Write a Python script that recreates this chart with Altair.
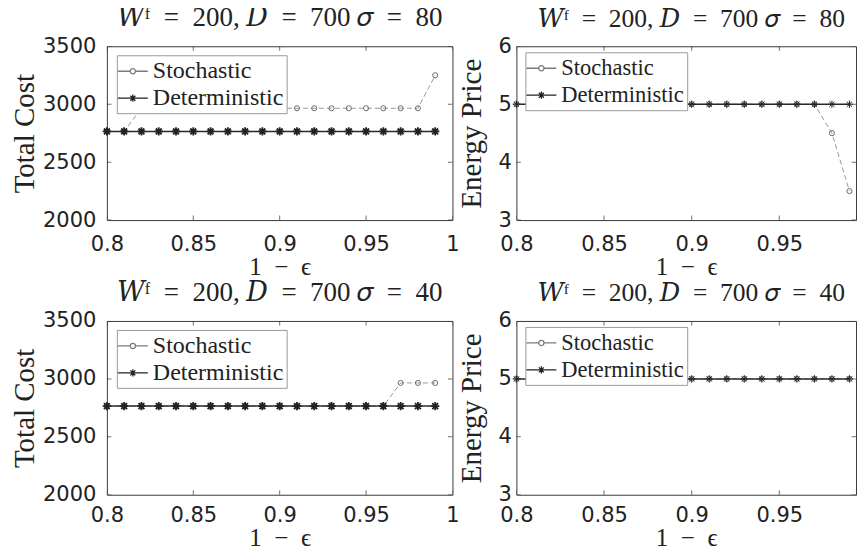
import altair as alt
import pandas as pd

# ---------------- data ----------------
x_vals = [0.80, 0.81, 0.82, 0.83, 0.84, 0.85, 0.86, 0.87, 0.88, 0.89,
          0.90, 0.91, 0.92, 0.93, 0.94, 0.95, 0.96, 0.97, 0.98, 0.99]

cost_stoch_80 = [2765, 2765, 2965, 2965, 2965, 2965, 2965, 2965, 2965, 2965,
                 2965, 2965, 2965, 2965, 2965, 2965, 2965, 2965, 2965, 3250]
cost_det_80 = [2765, 2765, 2765, 2765, 2765, 2765, 2765, 2765, 2765, 2765,
               2765, 2765, 2765, 2765, 2765, 2765, 2765, 2765, 2765, 2765]
price_stoch_80 = [5, 5, 5, 5, 5, 5, 5, 5, 5, 5,
                  5, 5, 5, 5, 5, 5, 5, 5, 4.5, 3.5]
price_det_80 = [5, 5, 5, 5, 5, 5, 5, 5, 5, 5,
                5, 5, 5, 5, 5, 5, 5, 5, 5, 5]

cost_stoch_40 = [2765, 2765, 2765, 2765, 2765, 2765, 2765, 2765, 2765, 2765,
                 2765, 2765, 2765, 2765, 2765, 2765, 2765, 2965, 2965, 2965]
cost_det_40 = [2765, 2765, 2765, 2765, 2765, 2765, 2765, 2765, 2765, 2765,
               2765, 2765, 2765, 2765, 2765, 2765, 2765, 2765, 2765, 2765]
price_stoch_40 = [5, 5, 5, 5, 5, 5, 5, 5, 5, 5,
                  5, 5, 5, 5, 5, 5, 5, 5, 5, 5]
price_det_40 = [5, 5, 5, 5, 5, 5, 5, 5, 5, 5,
                5, 5, 5, 5, 5, 5, 5, 5, 5, 5]

series_names = ["Stochastic", "Deterministic"]
x_ticks_left = [0.8, 0.85, 0.9, 0.95, 1.0]
x_ticks_right = [0.8, 0.85, 0.9, 0.95]   # the "1" tick of the right panels falls past the picture's edge
cost_ticks = [2000, 2500, 3000, 3500]
price_ticks = [3, 4, 5, 6]

EN = "\u2002"
title_80 = f"𝑊ᶠ{EN}={EN}200, 𝐷{EN}={EN}700 𝜎{EN}={EN}80"
title_40 = f"𝑊ᶠ{EN}={EN}200, 𝐷{EN}={EN}700 𝜎{EN}={EN}40"
x_title = f"1{EN}−{EN}ϵ"

# ---------------- marker shapes ----------------
STAR_BOLD = ("M0,-1L0,1M-1,0L1,0M-0.7,-0.7L0.7,0.7M-0.7,0.7L0.7,-0.7"
             "M0.35,0A0.35,0.35,0,1,1,-0.35,0A0.35,0.35,0,1,1,0.35,0")
STAR_THIN = "M0,-1L0,1M-1,0L1,0M-0.7,-0.7L0.7,0.7M-0.7,0.7L0.7,-0.7"
LEG_ST = ("M-1.25,0L-0.22,0M0.22,0L1.25,0"
          "M0.22,0A0.22,0.22,0,1,1,-0.22,0A0.22,0.22,0,1,1,0.22,0")
LEG_DE = ("M-1.25,0L1.25,0M0,-0.3L0,0.3M-0.3,0L0.3,0"
          "M-0.21,-0.21L0.21,0.21M-0.21,0.21L0.21,-0.21")

SERIF = "Liberation Serif"
TITLE_FONT = "Liberation Serif, DejaVu Serif"
SANS = "DejaVu Sans"


def panel(stoch, det, ylabel, ydom, yticks, title, w, h, xmax, xticks,
          lab_pad, ttl_pad, star_path, star_size, star_sw,
          leg_font, leg_x, leg_y, title_size, title_dx, xlab_pad):
    df = pd.DataFrame({
        "x": x_vals + x_vals,
        "y": stoch + det,
        "series": [series_names[0]] * len(x_vals) + [series_names[1]] * len(x_vals),
    })
    xs = alt.Scale(domain=[0.8, xmax], nice=False, zero=False, padding=0)
    ys = alt.Scale(domain=ydom, nice=False, zero=False, padding=0)
    X = alt.X("x:Q", scale=xs,
              axis=alt.Axis(values=xticks, format="~g", title=x_title,
                            labelPadding=xlab_pad, titlePadding=0, labelFlush=False,
                            titleFontSize=25))
    Y = alt.Y("y:Q", scale=ys,
              axis=alt.Axis(values=yticks, format="d", title=ylabel,
                            labelFlush=False,
                            labelPadding=lab_pad, titlePadding=ttl_pad))
    base = alt.Chart(df)
    st = base.transform_filter(alt.datum.series == series_names[0])
    de = base.transform_filter(alt.datum.series == series_names[1])

    st_line = st.mark_line(color="#8c8c8c", strokeWidth=0.9,
                           strokeDash=[5, 3]).encode(X, Y)
    st_pts = st.mark_point(shape="circle", filled=False, color="#6a6a6a",
                           size=26, strokeWidth=1, opacity=1).encode(X, Y)
    de_line = de.mark_line(color="#2a2a2a", strokeWidth=1.5).encode(X, Y)
    de_pts = de.mark_point(shape=star_path, filled=True, fill="#222",
                           stroke="#222", size=star_size, strokeWidth=star_sw,
                           opacity=1).encode(X, Y)

    leg_def = alt.Legend(title=None, orient="none", legendX=leg_x, legendY=leg_y,
                         fillColor="white", strokeColor="#9a9a9a",
                         padding=3, labelFont=SERIF, labelFontSize=leg_font,
                         labelColor="#222", symbolSize=576, symbolOpacity=1,
                         symbolStrokeWidth=1.3, labelOffset=7, rowPadding=2,
                         labelLimit=400)
    leg = base.mark_point(opacity=0, filled=False).encode(
        X, Y,
        shape=alt.Shape("series:N",
                        scale=alt.Scale(domain=series_names, range=[LEG_ST, LEG_DE]),
                        legend=leg_def),
        color=alt.Color("series:N",
                        scale=alt.Scale(domain=series_names, range=["#7a7a7a", "#222222"]),
                        legend=leg_def),
    )

    xt = alt.Chart(pd.DataFrame({"x": xticks}))
    yt = alt.Chart(pd.DataFrame({"y": yticks}))
    tk = dict(size=9, thickness=1, color="#333", clip=True)
    t_bot = xt.mark_tick(**tk).encode(X, y=alt.value(h))
    t_top = xt.mark_tick(**tk).encode(X, y=alt.value(0))
    t_left = yt.mark_tick(**tk).encode(Y, x=alt.value(0))
    t_right = yt.mark_tick(**tk).encode(Y, x=alt.value(w))

    return alt.layer(st_line, st_pts, de_line, de_pts, leg,
                     t_bot, t_top, t_left, t_right).properties(
        width=w, height=h,
        title=alt.TitleParams(title, font=TITLE_FONT, fontSize=title_size,
                              fontWeight="normal", color="#222", offset=3,
                              dx=title_dx),
    )


RIGHT_W = 340
RIGHT_XMAX = 0.8 + 0.2 * RIGHT_W / 351

p1 = panel(cost_stoch_80, cost_det_80, "Total Cost", [2000, 3500], cost_ticks,
           title_80, 346, 174, 1.0, x_ticks_left,
           11, 3, STAR_BOLD, 70, 1.8, 24, 10, 9, 27, 0, 13)
p2 = panel(price_stoch_80, price_det_80, "Energy Price", [3, 6], price_ticks,
           title_80, RIGHT_W, 174, RIGHT_XMAX, x_ticks_right,
           5, 12, STAR_THIN, 55, 1.0, 22.5, 9, 6, 25.5, 5, 13)
p3 = panel(cost_stoch_40, cost_det_40, "Total Cost", [2000, 3500], cost_ticks,
           title_40, 346, 174, 1.0, x_ticks_left,
           11, 3, STAR_BOLD, 70, 1.8, 24, 10, 9, 27, 0, 10)
p4 = panel(price_stoch_40, price_det_40, "Energy Price", [3, 6], price_ticks,
           title_40, RIGHT_W, 174, RIGHT_XMAX, x_ticks_right,
           5, 12, STAR_THIN, 55, 1.0, 22.5, 9, 6, 25.5, 5, 10)

chart = alt.concat(
    p1, p2, p3, p4, columns=2,
    spacing={"row": 101, "column": 64}, bounds="flush",
).resolve_scale(
    color="independent", shape="independent", x="independent", y="independent"
).resolve_legend(
    color="independent", shape="independent"
).properties(
    padding={"left": 2, "top": -5, "right": 0, "bottom": -6},
    background="white",
).configure_view(
    stroke="#3a3a3a", strokeWidth=1, fill="white"
).configure_axis(
    grid=False, domain=False, ticks=False, tickSize=0,
    labelFont=SANS, labelFontSize=21, labelColor="#222",
    titleFont=SERIF, titleFontSize=29, titleFontWeight="normal",
    titleColor="#222",
)

chart.save("out.html", embed_options={"renderer": "svg", "actions": False})
